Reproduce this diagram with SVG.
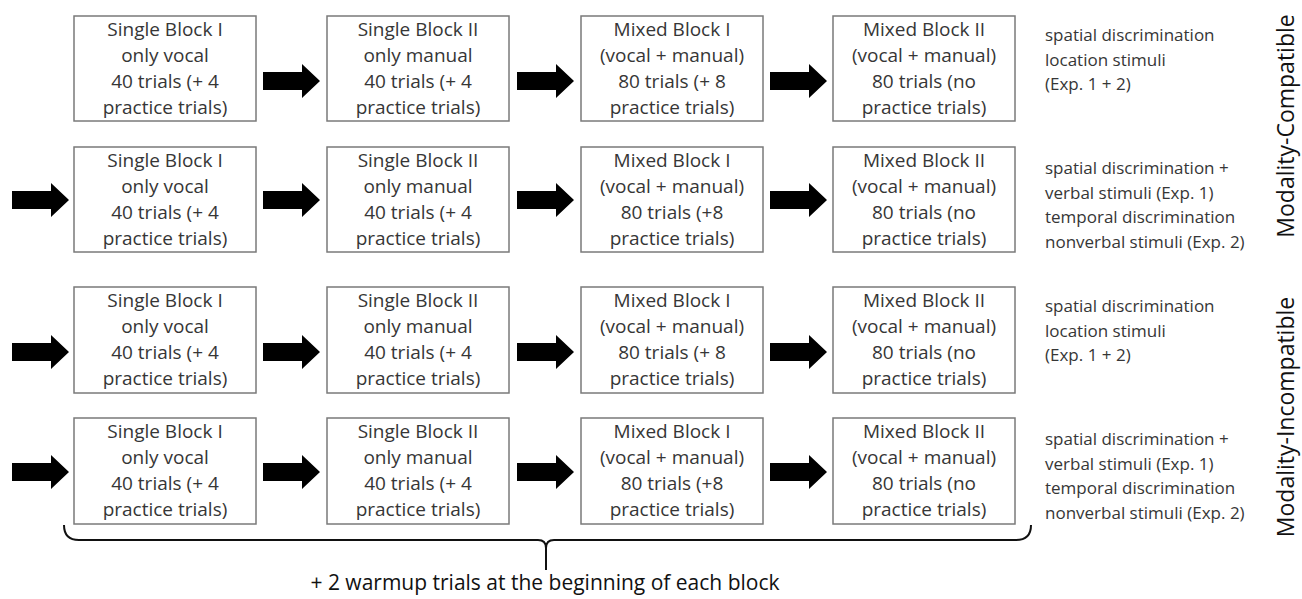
<svg xmlns="http://www.w3.org/2000/svg" xmlns:xlink="http://www.w3.org/1999/xlink" width="1302" height="599" viewBox="0 0 1302 599">
<style>
.box{fill:#fff;stroke:#7a7a7a;stroke-width:1.5}
.bt{font-family:"Open Sans","Liberation Sans",sans-serif;font-size:19px;fill:#363636;text-anchor:middle}
.rt{font-family:"Open Sans","Liberation Sans",sans-serif;font-size:17px;fill:#363636}
.vt{font-family:"Open Sans","Liberation Sans",sans-serif;font-size:23px;fill:#111;text-anchor:middle}
.arr{fill:#000}
.brace{fill:none;stroke:#111;stroke-width:2}
.ft{font-family:"Open Sans","Liberation Sans",sans-serif;font-size:21px;fill:#111;text-anchor:middle}
</style>
<defs>
<path id="arrow" d="M0,-9 H39 V-17 L57,0 L39,17 V9 H0 Z"/>
</defs>
<rect width="1302" height="599" fill="#fff"/>

<g id="connectors">
<use xlink:href="#arrow" class="arr" x="263" y="81"/>
<use xlink:href="#arrow" class="arr" x="517" y="81"/>
<use xlink:href="#arrow" class="arr" x="770" y="81"/>
<use xlink:href="#arrow" class="arr" x="12" y="200"/>
<use xlink:href="#arrow" class="arr" x="263" y="200"/>
<use xlink:href="#arrow" class="arr" x="517" y="200"/>
<use xlink:href="#arrow" class="arr" x="770" y="200"/>
<use xlink:href="#arrow" class="arr" x="12" y="352"/>
<use xlink:href="#arrow" class="arr" x="263" y="352"/>
<use xlink:href="#arrow" class="arr" x="517" y="352"/>
<use xlink:href="#arrow" class="arr" x="770" y="352"/>
<use xlink:href="#arrow" class="arr" x="12" y="472"/>
<use xlink:href="#arrow" class="arr" x="263" y="472"/>
<use xlink:href="#arrow" class="arr" x="517" y="472"/>
<use xlink:href="#arrow" class="arr" x="770" y="472"/>
<path class="brace" d="M64,525 Q64,540 79,540 H538 Q546,540 546,548 V570 M546,548 Q546,540 554,540 H1016 Q1031,540 1031,525"/>
</g>

<!-- Row 1 -->
<g id="r1b1"><rect class="box" x="74" y="16" width="182" height="105"/>
<text class="bt" x="165" y="36">Single Block I</text><text class="bt" x="165" y="62">only vocal</text><text class="bt" x="165" y="88">40 trials (+ 4</text><text class="bt" x="165" y="114">practice trials)</text></g>
<g id="r1b2"><rect class="box" x="327" y="16" width="182" height="105"/>
<text class="bt" x="418" y="36">Single Block II</text><text class="bt" x="418" y="62">only manual</text><text class="bt" x="418" y="88">40 trials (+ 4</text><text class="bt" x="418" y="114">practice trials)</text></g>
<g id="r1b3"><rect class="box" x="581" y="16" width="182" height="105"/>
<text class="bt" x="672" y="36">Mixed Block I</text><text class="bt" x="672" y="62">(vocal + manual)</text><text class="bt" x="672" y="88">80 trials (+ 8</text><text class="bt" x="672" y="114">practice trials)</text></g>
<g id="r1b4"><rect class="box" x="833" y="16" width="182" height="105"/>
<text class="bt" x="924" y="36">Mixed Block II</text><text class="bt" x="924" y="62">(vocal + manual)</text><text class="bt" x="924" y="88">80 trials (no</text><text class="bt" x="924" y="114">practice trials)</text></g>
<g id="r1label"><text class="rt" x="1045" y="41">spatial discrimination</text><text class="rt" x="1045" y="66">location stimuli</text><text class="rt" x="1045" y="90">(Exp. 1 + 2)</text></g>

<!-- Row 2 -->
<g id="r2b1"><rect class="box" x="74" y="147" width="182" height="105"/>
<text class="bt" x="165" y="167">Single Block I</text><text class="bt" x="165" y="193">only vocal</text><text class="bt" x="165" y="219">40 trials (+ 4</text><text class="bt" x="165" y="245">practice trials)</text></g>
<g id="r2b2"><rect class="box" x="327" y="147" width="182" height="105"/>
<text class="bt" x="418" y="167">Single Block II</text><text class="bt" x="418" y="193">only manual</text><text class="bt" x="418" y="219">40 trials (+ 4</text><text class="bt" x="418" y="245">practice trials)</text></g>
<g id="r2b3"><rect class="box" x="581" y="147" width="182" height="105"/>
<text class="bt" x="672" y="167">Mixed Block I</text><text class="bt" x="672" y="193">(vocal + manual)</text><text class="bt" x="672" y="219">80 trials (+8</text><text class="bt" x="672" y="245">practice trials)</text></g>
<g id="r2b4"><rect class="box" x="833" y="147" width="182" height="105"/>
<text class="bt" x="924" y="167">Mixed Block II</text><text class="bt" x="924" y="193">(vocal + manual)</text><text class="bt" x="924" y="219">80 trials (no</text><text class="bt" x="924" y="245">practice trials)</text></g>
<g id="r2label"><text class="rt" x="1045" y="174">spatial discrimination +</text><text class="rt" x="1045" y="198.5">verbal stimuli (Exp. 1)</text><text class="rt" x="1045" y="223">temporal discrimination</text><text class="rt" x="1045" y="247.5">nonverbal stimuli (Exp. 2)</text></g>

<!-- Row 3 -->
<g id="r3b1"><rect class="box" x="74" y="287" width="182" height="106"/>
<text class="bt" x="165" y="307">Single Block I</text><text class="bt" x="165" y="333">only vocal</text><text class="bt" x="165" y="359">40 trials (+ 4</text><text class="bt" x="165" y="385">practice trials)</text></g>
<g id="r3b2"><rect class="box" x="327" y="287" width="182" height="106"/>
<text class="bt" x="418" y="307">Single Block II</text><text class="bt" x="418" y="333">only manual</text><text class="bt" x="418" y="359">40 trials (+ 4</text><text class="bt" x="418" y="385">practice trials)</text></g>
<g id="r3b3"><rect class="box" x="581" y="287" width="182" height="106"/>
<text class="bt" x="672" y="307">Mixed Block I</text><text class="bt" x="672" y="333">(vocal + manual)</text><text class="bt" x="672" y="359">80 trials (+ 8</text><text class="bt" x="672" y="385">practice trials)</text></g>
<g id="r3b4"><rect class="box" x="833" y="287" width="182" height="106"/>
<text class="bt" x="924" y="307">Mixed Block II</text><text class="bt" x="924" y="333">(vocal + manual)</text><text class="bt" x="924" y="359">80 trials (no</text><text class="bt" x="924" y="385">practice trials)</text></g>
<g id="r3label"><text class="rt" x="1045" y="312">spatial discrimination</text><text class="rt" x="1045" y="337">location stimuli</text><text class="rt" x="1045" y="361">(Exp. 1 + 2)</text></g>

<!-- Row 4 -->
<g id="r4b1"><rect class="box" x="74" y="418" width="182" height="106"/>
<text class="bt" x="165" y="438">Single Block I</text><text class="bt" x="165" y="464">only vocal</text><text class="bt" x="165" y="490">40 trials (+ 4</text><text class="bt" x="165" y="516">practice trials)</text></g>
<g id="r4b2"><rect class="box" x="327" y="418" width="182" height="106"/>
<text class="bt" x="418" y="438">Single Block II</text><text class="bt" x="418" y="464">only manual</text><text class="bt" x="418" y="490">40 trials (+ 4</text><text class="bt" x="418" y="516">practice trials)</text></g>
<g id="r4b3"><rect class="box" x="581" y="418" width="182" height="106"/>
<text class="bt" x="672" y="438">Mixed Block I</text><text class="bt" x="672" y="464">(vocal + manual)</text><text class="bt" x="672" y="490">80 trials (+8</text><text class="bt" x="672" y="516">practice trials)</text></g>
<g id="r4b4"><rect class="box" x="833" y="418" width="182" height="106"/>
<text class="bt" x="924" y="438">Mixed Block II</text><text class="bt" x="924" y="464">(vocal + manual)</text><text class="bt" x="924" y="490">80 trials (no</text><text class="bt" x="924" y="516">practice trials)</text></g>
<g id="r4label"><text class="rt" x="1045" y="445">spatial discrimination +</text><text class="rt" x="1045" y="469.5">verbal stimuli (Exp. 1)</text><text class="rt" x="1045" y="494">temporal discrimination</text><text class="rt" x="1045" y="518.5">nonverbal stimuli (Exp. 2)</text></g>

<g id="group-labels">
<text class="vt" transform="translate(1294,126) rotate(-90)">Modality-Compatible</text>
<text class="vt" transform="translate(1294,417) rotate(-90)">Modality-Incompatible</text>
</g>

<g id="footnote"><text class="ft" x="545" y="590">+ 2 warmup trials at the beginning of each block</text></g>
</svg>
